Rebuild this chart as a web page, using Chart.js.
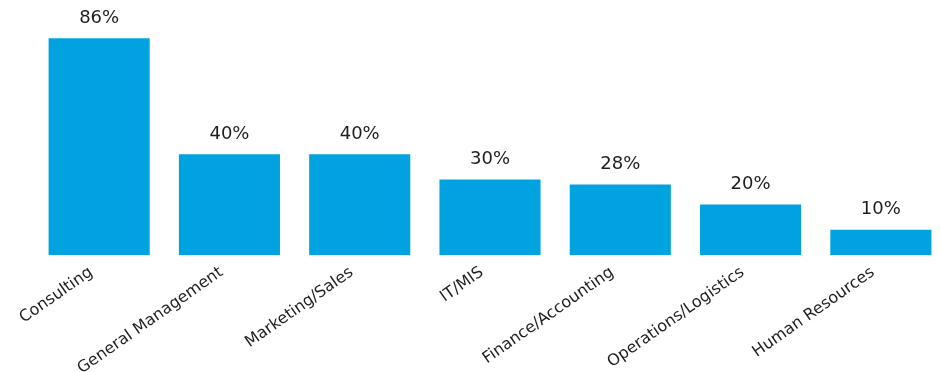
<!DOCTYPE html>
<html>
<head>
<meta charset="utf-8">
<script src="https://cdn.jsdelivr.net/npm/chart.js@4"></script>
<style>
  html, body { margin: 0; padding: 0; background: #fff; overflow: hidden; }
  #wrap { width: 946px; height: 372px; }
</style>
</head>
<body>
<div id="wrap"><canvas id="monGraphe"></canvas></div>
<script>
const categories = ['Consulting', 'General Management', 'Marketing/Sales', 'IT/MIS',
  'Finance/Accounting', 'Operations/Logistics', 'Human Resources'];
const percents = [86, 40, 40, 30, 28, 20, 10];

// etiquettes au-dessus des barres
const valueLabels = {
  id: 'valueLabels',
  afterDatasetsDraw(chart) {
    const ctx = chart.ctx;
    ctx.save();
    ctx.font = '18px "DejaVu Sans", Verdana, sans-serif';
    ctx.fillStyle = '#1e1e1e';
    ctx.textAlign = 'center';
    ctx.textBaseline = 'bottom';
    chart.getDatasetMeta(0).data.forEach((bar, i) => {
      ctx.fillText(percents[i] + '%', bar.x, bar.y - 11);
    });
    ctx.restore();
  }
};

const Graph = document.getElementById('monGraphe').getContext('2d');
const chart = new Chart(Graph, {
  type: 'bar',
  data: {
    labels: categories,
    datasets: [{
      data: percents,
      backgroundColor: '#00a3e0',
      borderWidth: 0,
      barPercentage: 0.776,
      categoryPercentage: 1
    }]
  },
  options: {
    responsive: true,
    maintainAspectRatio: false,
    animation: false,
    layout: { padding: { left: 34, right: 0, top: 3, bottom: 0 } },
    plugins: { legend: { display: false }, tooltip: { enabled: false } },
    scales: {
      x: {
        grid: { display: false },
        border: { display: false },
        ticks: {
          color: '#1e1e1e',
          font: { family: '"DejaVu Sans", Verdana, sans-serif', size: 16 },
          minRotation: 35,
          maxRotation: 35,
          autoSkip: false,
          padding: 0,
          labelOffset: -8
        },
        afterFit(scale) {
          scale.height = 117;
          scale.paddingLeft = 0;
          scale.paddingRight = 0;
        }
      },
      y: {
        display: false,
        min: 0,
        max: 100
      }
    }
  },
  plugins: [valueLabels]
});
</script>
</body>
</html>
